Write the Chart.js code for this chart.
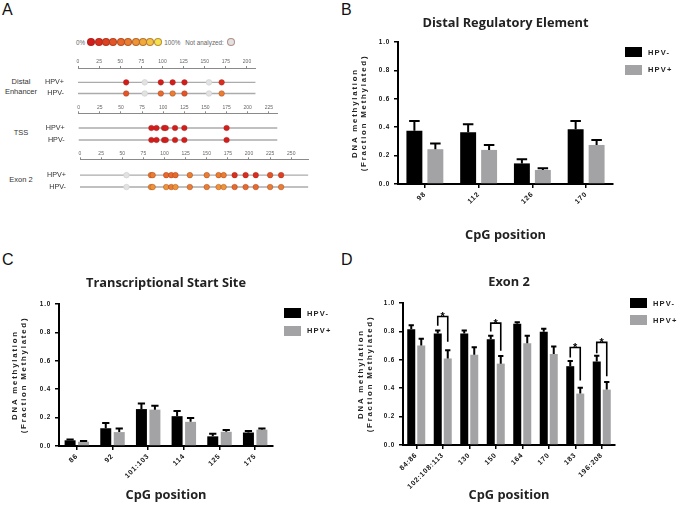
<!DOCTYPE html>
<html>
<head>
<meta charset="utf-8">
<script src="https://cdn.jsdelivr.net/npm/chart.js@4.4.1/dist/chart.umd.min.js"></script>
<style>
  body { margin: 0; background: #fff; width: 685px; height: 505px; position: relative; overflow: hidden;
         font-family: "Liberation Sans", Arial, sans-serif; }
  .box { position: absolute; }
  .letter { position: absolute; font-size: 16px; color: #111; }
  .region { position: absolute; font-size: 7.5px; color: #333; text-align: center; line-height: 10px; }
  .leg { position: absolute; display: flex; align-items: center; height: 10px; font-weight: bold;
         font-size: 7.5px; letter-spacing: 1.2px; color: #222; }
  .sw { display: inline-block; width: 17px; height: 10px; margin-right: 6px; }
  #key { position: absolute; left: 76px; top: 38px; height: 8px; display: flex; align-items: center;
         font-size: 6.3px; color: #666; }
  #key .dot { width: 8px; height: 8px; border-radius: 50%; box-sizing: border-box;
              border: 0.6px solid rgba(120,40,20,0.45); margin-right: -0.6px; }
</style>
</head>
<body>
<div class="letter" style="left:2px;top:1px">A</div>
<div class="letter" style="left:341px;top:1px">B</div>
<div class="letter" style="left:2px;top:251px">C</div>
<div class="letter" style="left:341px;top:251px">D</div>

<div id="key"></div>
<div class="region" style="left:0px;top:77px;width:42px">Distal<br>Enhancer</div>
<div class="region" style="left:0px;top:128px;width:42px">TSS</div>
<div class="region" style="left:0px;top:175px;width:42px">Exon 2</div>

<div class="box" style="left:0;top:55px;width:340px;height:55px"><canvas id="mapDistal"></canvas></div>
<div class="box" style="left:0;top:101px;width:340px;height:56px"><canvas id="mapTss"></canvas></div>
<div class="box" style="left:0;top:147px;width:340px;height:57px"><canvas id="mapExon"></canvas></div>

<div class="box" style="left:340px;top:0;width:345px;height:250px"><canvas id="chartB"></canvas></div>
<div class="box" style="left:0;top:250px;width:340px;height:255px"><canvas id="chartC"></canvas></div>
<div class="box" style="left:340px;top:250px;width:345px;height:255px"><canvas id="chartD"></canvas></div>

<script>
// ---- panel A: CpG maps (position in bp, colour level 0..9, null = not analyzed)
const methylPalette = ['#d31d1d', '#d92d1f', '#de4022', '#e35426', '#e7692b', '#ea7e30', '#ed9435', '#f0aa3b', '#f2c343', '#f3e24c'];
const notAnalyzedColor = '#e2e2e2';

const distalPositions = [57, 79, 98, 112, 126, 155, 170];
const distalLevelHpvPos = [0, null, 0, 0, 0, null, 1];
const distalLevelHpvNeg = [3, null, 4, 5, 3, null, 5];

const tssPositions = [86, 92, 101, 103, 114, 125, 175];
const tssLevelHpvPos = [0, 0, 0, 0, 0, 0, 0];
const tssLevelHpvNeg = [0, 0, 0, 0, 0, 0, 0];

const exonPositions = [55, 84, 86, 102, 108, 113, 130, 150, 164, 170, 183, 196, 208, 225, 238];
const exonLevelHpvPos = [null, 5, 5, 4, 4, 4, 5, 5, 5, 5, 1, 1, 1, 3, 2];
const exonLevelHpvNeg = [null, 6, 6, 6, 5, 6, 5, 5, 6, 6, 4, 4, 4, 5, 5];

const regionLengths = { distal: 210, tss: 235, exon: 270 };

// ---- panels B-D: mean fraction methylated and SEM
const distalCpGs = ['98', '112', '126', '170'];
const distalHpvNeg = [0.375, 0.365, 0.145, 0.386];
const distalHpvNegSem = [0.068, 0.055, 0.03, 0.058];
const distalHpvPos = [0.245, 0.24, 0.099, 0.275];
const distalHpvPosSem = [0.04, 0.035, 0.012, 0.035];

const tssCpGs = ['86', '92', '101:103', '114', '125', '175'];
const tssHpvNeg = [0.04, 0.125, 0.26, 0.21, 0.068, 0.095];
const tssHpvNegSem = [0.006, 0.037, 0.04, 0.037, 0.019, 0.01];
const tssHpvPos = [0.03, 0.098, 0.256, 0.17, 0.1, 0.115];
const tssHpvPosSem = [0.005, 0.025, 0.027, 0.028, 0.012, 0.008];

const exonCpGs = ['84:86', '102:108:113', '130', '150', '164', '170', '183', '196:208'];
const exonHpvNeg = [0.815, 0.786, 0.786, 0.744, 0.853, 0.797, 0.555, 0.588];
const exonHpvNegSem = [0.028, 0.02, 0.02, 0.025, 0.012, 0.022, 0.036, 0.04];
const exonHpvPos = [0.70, 0.61, 0.635, 0.573, 0.716, 0.64, 0.362, 0.39];
const exonHpvPosSem = [0.048, 0.057, 0.053, 0.053, 0.053, 0.053, 0.042, 0.054];

// significance brackets (category index, bracket top, left/right leg ends)
const exonSigIndex = [1, 3, 6, 7];
const exonSigTop = [0.905, 0.858, 0.687, 0.723];
const exonSigLeftEnd = [0.84, 0.80, 0.616, 0.647];
const exonSigRightEnd = [0.727, 0.663, 0.455, 0.485];

const yTicks = [0, 0.2, 0.4, 0.6, 0.8, 1.0];
const yCaption = ['DNA methylation', '(Fraction Methylated)'];

Chart.defaults.font.family = '"Liberation Sans", Arial, sans-serif';
Chart.defaults.animation = false;
Chart.defaults.events = [];
Chart.defaults.plugins.legend.display = false;
Chart.defaults.plugins.tooltip.enabled = false;

// ---------- colour key ----------
const key = document.getElementById('key');
const addText = (t, ml, mr) => {
  const s = document.createElement('span');
  s.textContent = t; s.style.marginLeft = ml + 'px'; s.style.marginRight = mr + 'px';
  key.appendChild(s);
};
const addDot = c => {
  const d = document.createElement('span');
  d.className = 'dot'; d.style.background = c;
  key.appendChild(d);
};
addText('0%', 0, 2);
methylPalette.forEach(addDot);
addText('100%', 3, 5);
addText('Not analyzed:', 0, 3);
addDot(notAnalyzedColor);

// ---------- panel A maps ----------
const pxPerUnit = 0.845;

function mapChart(id, positions, levelsPos, levelsNeg, length, layout) {
  const toColor = levels => levels.map(l => (l === null ? notAnalyzedColor : methylPalette[l]));
  const toBorder = levels => levels.map(l => (l === null ? '#cfcfcf' : 'rgba(140,40,20,0.55)'));
  const row = label => positions.map(p => ({ x: p, y: label }));
  const line = label => [{ x: 0, y: label }, { x: length, y: label }];

  new Chart(document.getElementById(id), {
    type: 'scatter',
    data: {
      datasets: [
        { data: row('HPV+'), pointRadius: 2.8, pointBackgroundColor: toColor(levelsPos),
          pointBorderColor: toBorder(levelsPos), pointBorderWidth: 0.6 },
        { data: row('HPV-'), pointRadius: 2.8, pointBackgroundColor: toColor(levelsNeg),
          pointBorderColor: toBorder(levelsNeg), pointBorderWidth: 0.6 },
        { data: line('HPV+'), showLine: true, borderColor: '#ababab', borderWidth: 1.4, pointRadius: 0 },
        { data: line('HPV-'), showLine: true, borderColor: '#ababab', borderWidth: 1.4, pointRadius: 0 },
      ],
    },
    options: {
      responsive: true,
      maintainAspectRatio: false,
      clip: false,
      layout: {
        padding: { left: 0, top: 0, bottom: 11,
                   right: 340 - layout.originX - length * pxPerUnit },
      },
      scales: {
        x: {
          type: 'linear', position: 'top', min: 0, max: length, weight: 1,
          afterFit: s => { s.height = layout.axisHeight; },
          ticks: { stepSize: 25, includeBounds: false, maxRotation: 0, padding: 1,
                   font: { size: 5 }, color: '#666' },
          grid: { drawOnChartArea: false, tickLength: 2, color: '#888' },
          border: { color: '#8a8a8a', width: 1 },
        },
        cpg: {
          type: 'linear', position: 'top', min: 0, max: length, weight: 0,
          afterFit: s => { s.height = layout.cpgHeight; },
          afterBuildTicks: s => { s.ticks = positions.map(v => ({ value: v })); },
          ticks: { autoSkip: false, maxRotation: 0, padding: 1, font: { size: 4.5 }, color: '#555',
                   callback: (v, i) => String(i + 1) },
          grid: { display: false },
          border: { display: false },
        },
        y: {
          type: 'category', labels: ['HPV+', 'HPV-'], offset: true, position: 'left',
          afterFit: s => { s.width = layout.originX; },
          ticks: { autoSkip: false, padding: 6, font: { size: 7.2 }, color: '#333' },
          grid: { display: false },
          border: { display: false },
        },
      },
    },
  });
}

mapChart('mapDistal', distalPositions, distalLevelHpvPos, distalLevelHpvNeg, regionLengths.distal,
  { originX: 78, axisHeight: 13, cpgHeight: 8.8 });
mapChart('mapTss', tssPositions, tssLevelHpvPos, tssLevelHpvNeg, regionLengths.tss,
  { originX: 78.7, axisHeight: 12.3, cpgHeight: 8.7 });
mapChart('mapExon', exonPositions, exonLevelHpvPos, exonLevelHpvNeg, regionLengths.exon,
  { originX: 80, axisHeight: 12.3, cpgHeight: 9.9 });

// ---------- error bars, brackets, letter spacing, y caption ----------
const errorBarPlugin = {
  id: 'errorBars',
  afterDatasetsDraw(chart, args, opts) {
    const ctx = chart.ctx;
    const y = chart.scales.y;
    ctx.save();
    ctx.strokeStyle = '#000';
    ctx.lineWidth = 2;
    opts.sem.forEach((sem, di) => {
      const values = chart.data.datasets[di].data;
      chart.getDatasetMeta(di).data.forEach((bar, i) => {
        const top = y.getPixelForValue(values[i] + sem[i]);
        const half = bar.width * 0.33;
        ctx.beginPath();
        ctx.moveTo(bar.x, bar.y);
        ctx.lineTo(bar.x, top);
        ctx.moveTo(bar.x - half, top);
        ctx.lineTo(bar.x + half, top);
        ctx.stroke();
      });
    });
    ctx.restore();
  },
};

const bracketPlugin = {
  id: 'sigBrackets',
  afterDatasetsDraw(chart, args, opts) {
    if (!opts.index) return;
    const ctx = chart.ctx;
    const y = chart.scales.y;
    const neg = chart.getDatasetMeta(0).data;
    const pos = chart.getDatasetMeta(1).data;
    ctx.save();
    ctx.strokeStyle = '#000';
    ctx.lineWidth = 1.6;
    ctx.fillStyle = '#000';
    ctx.font = 'bold 11px "Liberation Sans", Arial, sans-serif';
    ctx.textAlign = 'center';
    ctx.textBaseline = 'alphabetic';
    opts.index.forEach((idx, k) => {
      const x1 = neg[idx].x, x2 = pos[idx].x;
      const top = y.getPixelForValue(opts.top[k]);
      ctx.beginPath();
      ctx.moveTo(x1, y.getPixelForValue(opts.leftEnd[k]));
      ctx.lineTo(x1, top);
      ctx.lineTo(x2, top);
      ctx.lineTo(x2, y.getPixelForValue(opts.rightEnd[k]));
      ctx.stroke();
      ctx.fillText('*', (x1 + x2) / 2, top + 4);
    });
    ctx.restore();
  },
};

// tick labels (drawn after the datasets, z: 1) get the wide GraphPad-like letter spacing
const spacingPlugin = {
  id: 'spacing',
  afterDatasetsDraw(chart) { chart.ctx.letterSpacing = '0.8px'; },
  afterDraw(chart) { chart.ctx.letterSpacing = '0px'; },
};

// two-line rotated y caption, centred on the plot area
const yCaptionPlugin = {
  id: 'yCaption',
  afterDraw(chart, args, opts) {
    const { ctx, chartArea } = chart;
    ctx.save();
    ctx.letterSpacing = opts.spacing + 'px';
    ctx.font = 'bold ' + opts.size + 'px "Liberation Sans", Arial, sans-serif';
    ctx.fillStyle = '#222';
    ctx.textAlign = 'center';
    ctx.textBaseline = 'middle';
    ctx.translate(opts.x, (chartArea.top + chartArea.bottom) / 2);
    ctx.rotate(-Math.PI / 2);
    opts.lines.forEach((t, i) => ctx.fillText(t, 0, i * opts.lineGap));
    ctx.restore();
  },
};

function barChart(id, cfg) {
  const titleSize = 12.8, xTitleSize = 12.8;
  const chart = new Chart(document.getElementById(id), {
    type: 'bar',
    data: {
      labels: cfg.labels,
      datasets: [
        { label: 'HPV-', data: cfg.neg, backgroundColor: '#000000' },
        { label: 'HPV+', data: cfg.pos, backgroundColor: '#a3a3a5' },
      ],
    },
    plugins: [errorBarPlugin, bracketPlugin, spacingPlugin, yCaptionPlugin],
    options: {
      responsive: true,
      maintainAspectRatio: false,
      layout: { padding: { left: 0, top: 0, bottom: 0, right: cfg.padRight } },
      datasets: { bar: { categoryPercentage: cfg.cp, barPercentage: cfg.bp } },
      plugins: {
        title: {
          display: true,
          text: cfg.title,
          fullSize: false,
          color: '#222',
          font: { family: '"Open Sans", sans-serif', size: titleSize, weight: 'bold', lineHeight: 1.2 },
          padding: { top: cfg.titleY - titleSize * 0.6,
                     bottom: cfg.chartTop - cfg.titleY - titleSize * 0.6 },
        },
        errorBars: { sem: [cfg.negSem, cfg.posSem] },
        sigBrackets: cfg.brackets || {},
        yCaption: { lines: yCaption, x: cfg.yTitleX, size: 7.8, spacing: 1.8, lineGap: 9 },
      },
      scales: {
        x: {
          afterFit: s => { s.height = cfg.height - cfg.chartBottom; },
          ticks: { z: 1, autoSkip: false, minRotation: 45, maxRotation: 45, padding: 2,
                   font: { size: 7, weight: 'bold' }, color: '#111' },
          grid: { offset: false, drawOnChartArea: false, tickLength: 4, color: '#000', lineWidth: 1.5 },
          border: { color: '#000', width: 2 },
          title: {
            display: true, text: 'CpG position', color: '#222',
            font: { family: '"Open Sans", sans-serif', size: xTitleSize, weight: 'bold', lineHeight: 1.2 },
            padding: { top: 0, bottom: cfg.height - cfg.xTitleY - xTitleSize * 0.6 },
          },
        },
        y: {
          min: 0, max: 1,
          afterFit: s => { s.width = cfg.yWidth; },
          afterBuildTicks: s => { s.ticks = yTicks.map(v => ({ value: v })); },
          ticks: { z: 1, padding: 4, font: { size: 6.3, weight: 'bold' }, color: '#111',
                   callback: v => v.toFixed(1) },
          grid: { drawOnChartArea: false, tickLength: 4, color: '#000', lineWidth: 1.5 },
          border: { color: '#000', width: 2 },
        },
      },
    },
  });

  // legend boxes at the right of each panel
  chart.data.datasets.forEach((ds, i) => {
    const row = document.createElement('div');
    row.className = 'leg';
    row.style.left = cfg.legend.x + 'px';
    row.style.top = (cfg.legend.y + i * cfg.legend.gap - 5) + 'px';
    const sw = document.createElement('span');
    sw.className = 'sw';
    sw.style.background = ds.backgroundColor;
    row.appendChild(sw);
    row.appendChild(document.createTextNode(ds.label));
    document.body.appendChild(row);
  });
  return chart;
}

barChart('chartB', {
  title: 'Distal Regulatory Element', labels: distalCpGs,
  neg: distalHpvNeg, negSem: distalHpvNegSem, pos: distalHpvPos, posSem: distalHpvPosSem,
  height: 250, yWidth: 58, chartTop: 42, chartBottom: 184, padRight: 72,
  titleY: 23, yTitleX: 15, xTitleY: 235, cp: 0.78, bp: 0.76,
  legend: { x: 625, y: 52, gap: 17.5 },
});

barChart('chartC', {
  title: 'Transcriptional Start Site', labels: tssCpGs,
  neg: tssHpvNeg, negSem: tssHpvNegSem, pos: tssHpvPos, posSem: tssHpvPosSem,
  height: 255, yWidth: 59, chartTop: 54, chartBottom: 196, padRight: 67,
  titleY: 33, yTitleX: 15, xTitleY: 245, cp: 0.756, bp: 0.815,
  legend: { x: 284, y: 313, gap: 17.5 },
});

barChart('chartD', {
  title: 'Exon 2', labels: exonCpGs,
  neg: exonHpvNeg, negSem: exonHpvNegSem, pos: exonHpvPos, posSem: exonHpvPosSem,
  height: 255, yWidth: 63, chartTop: 53, chartBottom: 195, padRight: 70,
  titleY: 32, yTitleX: 21, xTitleY: 245, cp: 0.755, bp: 0.8,
  legend: { x: 630, y: 303, gap: 17 },
  brackets: { index: exonSigIndex, top: exonSigTop, leftEnd: exonSigLeftEnd, rightEnd: exonSigRightEnd },
});
</script>
</body>
</html>
